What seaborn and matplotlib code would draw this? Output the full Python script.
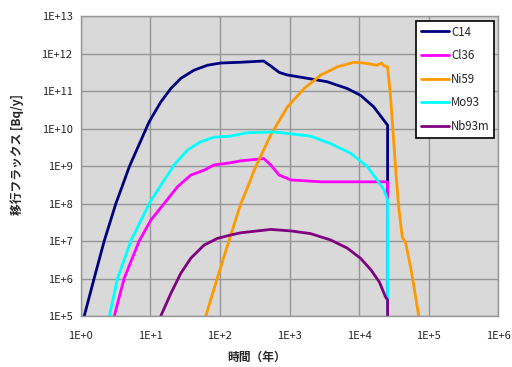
import numpy as np
import pandas as pd
import matplotlib
matplotlib.use('Agg')
import matplotlib.pyplot as plt
import seaborn as sns
from matplotlib.ticker import FixedLocator, FuncFormatter, NullLocator

# series names and colours (Excel style)
nuclides = ['C14', 'Cl36', 'Ni59', 'Mo93', 'Nb93m']
colors = ['#000080', '#ff00ff', '#ff9900', '#00ffff', '#800080']

# time [y] and flux [Bq/y]
c14_t = [1.117, 1.549, 2.163, 3.184, 5.01, 9.572, 14.09, 19.63, 27.35, 42.46,
         66.07, 102.6, 199.5, 398, 426.6, 537, 707.9, 933.3, 1820, 3467, 6761, 10470, 16220,
         25700, 25700]
c14_f = [1e5, 1e6, 1e7, 1e8, 1e9, 1.51e10, 5.13e10, 1.17e11, 2.19e11,
         3.63e11, 4.9e11, 5.62e11, 5.89e11, 6.31e11, 6.31e11, 4.68e11, 3.16e11, 2.69e11,
         2.19e11, 1.78e11, 1.17e11, 7.76e10, 3.8e10, 1.23e10, 1e3]

cl36_t = [3.02, 4.188, 6.887, 10.14, 15.74, 24.55, 38.02, 58.88, 82.22, 142.9, 199.5, 426.6,
          537, 707.9, 1047, 2818, 25700, 25700]
cl36_f = [1e5, 1e6, 1e7, 3.63e7, 1e8, 2.82e8, 5.75e8, 7.76e8, 1.07e9, 1.23e9, 1.38e9, 1.58e9,
          1.07e9, 5.75e8, 4.27e8, 3.8e8, 3.8e8, 1e3]

ni59_t = [62.52, 91.2, 142.9, 199.5, 275.4, 309, 537, 933.3, 1622, 2818, 4898, 8511, 11750,
          18200, 20890, 22910, 25700, 28180, 30200, 33880, 37150, 41690, 46770, 54950, 61660,
          72440]
ni59_f = [1e5, 1e6, 1.45e7, 1e8, 4.27e8, 7.76e8, 6.76e9, 3.8e10, 1.17e11, 2.69e11, 4.47e11,
          5.89e11, 5.62e11, 4.9e11, 5.62e11, 4.68e11, 4.47e11, 7.94e10, 1.38e10, 6.46e8,
          8.13e7, 1.29e7, 8.91e6, 2.04e6, 5.89e5, 9.33e4]

mo93_t = [2.57, 3.365, 5.224, 9.594, 14.09, 19.63, 21.88, 34.12, 52.97, 82.22, 142.9, 245.5,
          602.6, 1995, 3890, 7586, 13180, 18200, 22910, 25700, 25700]
mo93_f = [1e5, 1e6, 1e7, 1e8, 3.09e8, 7.76e8, 1.07e9, 2.69e9, 4.47e9, 5.89e9, 6.31e9, 7.76e9,
          8.13e9, 6.31e9, 3.98e9, 2.19e9, 9.55e8, 4.27e8, 2.29e8, 1.23e8, 1e3]

nb93m_t = [14.09, 19.63, 27.35, 38.02, 58.88, 91.2, 142.9, 199.5, 537, 1047, 1995, 3890, 6761,
           10470, 14790, 19500, 23990, 25700, 25700]
nb93m_f = [1e5, 3.98e5, 1.38e6, 3.47e6, 7.76e6, 1.17e7, 1.45e7, 1.66e7, 2.04e7, 1.86e7,
           1.58e7, 1.07e7, 6.46e6, 3.47e6, 1.7e6, 8.13e5, 3.24e5, 2.69e5, 1e3]

times = [c14_t, cl36_t, ni59_t, mo93_t, nb93m_t]
fluxes = [c14_f, cl36_f, ni59_f, mo93_f, nb93m_f]

frames = []
for name, t, f in zip(nuclides, times, fluxes):
    frames.append(pd.DataFrame({'time': t, 'flux': f, 'nuclide': name}))
df = pd.concat(frames, ignore_index=True)

sns.set_style('whitegrid', {'axes.facecolor': '#d9d9d9', 'grid.color': '#969696',
                            'axes.edgecolor': '#969696'})
plt.rcParams['font.family'] = ['Noto Sans CJK JP', 'DejaVu Sans']

fig = plt.figure(figsize=(5.12, 3.67), dpi=100)
ax = fig.add_axes([0.158, 0.139, 0.815, 0.817])

sns.lineplot(data=df, x='time', y='flux', hue='nuclide', hue_order=nuclides,
             palette=colors, sort=False, estimator=None, linewidth=2.0, ax=ax)

ax.set_xscale('log')
ax.set_yscale('log')
ax.set_xlim(1, 1e6)
ax.set_ylim(1e5, 1e13)

fmt = FuncFormatter(lambda v, p: '1E+%d' % int(round(np.log10(v))))
ax.xaxis.set_major_locator(FixedLocator([10.0 ** k for k in range(0, 7)]))
ax.yaxis.set_major_locator(FixedLocator([10.0 ** k for k in range(5, 14)]))
ax.xaxis.set_minor_locator(NullLocator())
ax.yaxis.set_minor_locator(NullLocator())
ax.xaxis.set_major_formatter(fmt)
ax.yaxis.set_major_formatter(fmt)
ax.tick_params(axis='both', which='major', labelsize=8, length=3, width=1,
               color='#969696', pad=3)
ax.tick_params(axis='x', pad=8)
ax.grid(True, color='#969696', linewidth=1)
for s in ax.spines.values():
    s.set_color('#969696')
    s.set_linewidth(1)

ax.set_xlabel('時間（年）', fontsize=8.5, fontweight='bold')
ax.set_ylabel('移行フラックス [Bq/y]', fontsize=8.5, fontweight='bold')
ax.xaxis.set_label_coords(0.422, -0.117)
ax.yaxis.set_label_coords(-0.137, 0.54)

leg = ax.legend(loc='upper left', bbox_to_anchor=(0.8125, 0.943), bbox_transform=fig.transFigure,
                fontsize=8.3, frameon=True, fancybox=False, framealpha=1, handlelength=2.5,
                handletextpad=0.15, labelspacing=0.92, borderpad=0.4, borderaxespad=0)
leg.get_frame().set_edgecolor('black')
leg.get_frame().set_linewidth(1.2)
leg.get_frame().set_facecolor('white')
for line in leg.get_lines():
    line.set_linewidth(2.0)

fig.savefig('out.png', dpi=100)
